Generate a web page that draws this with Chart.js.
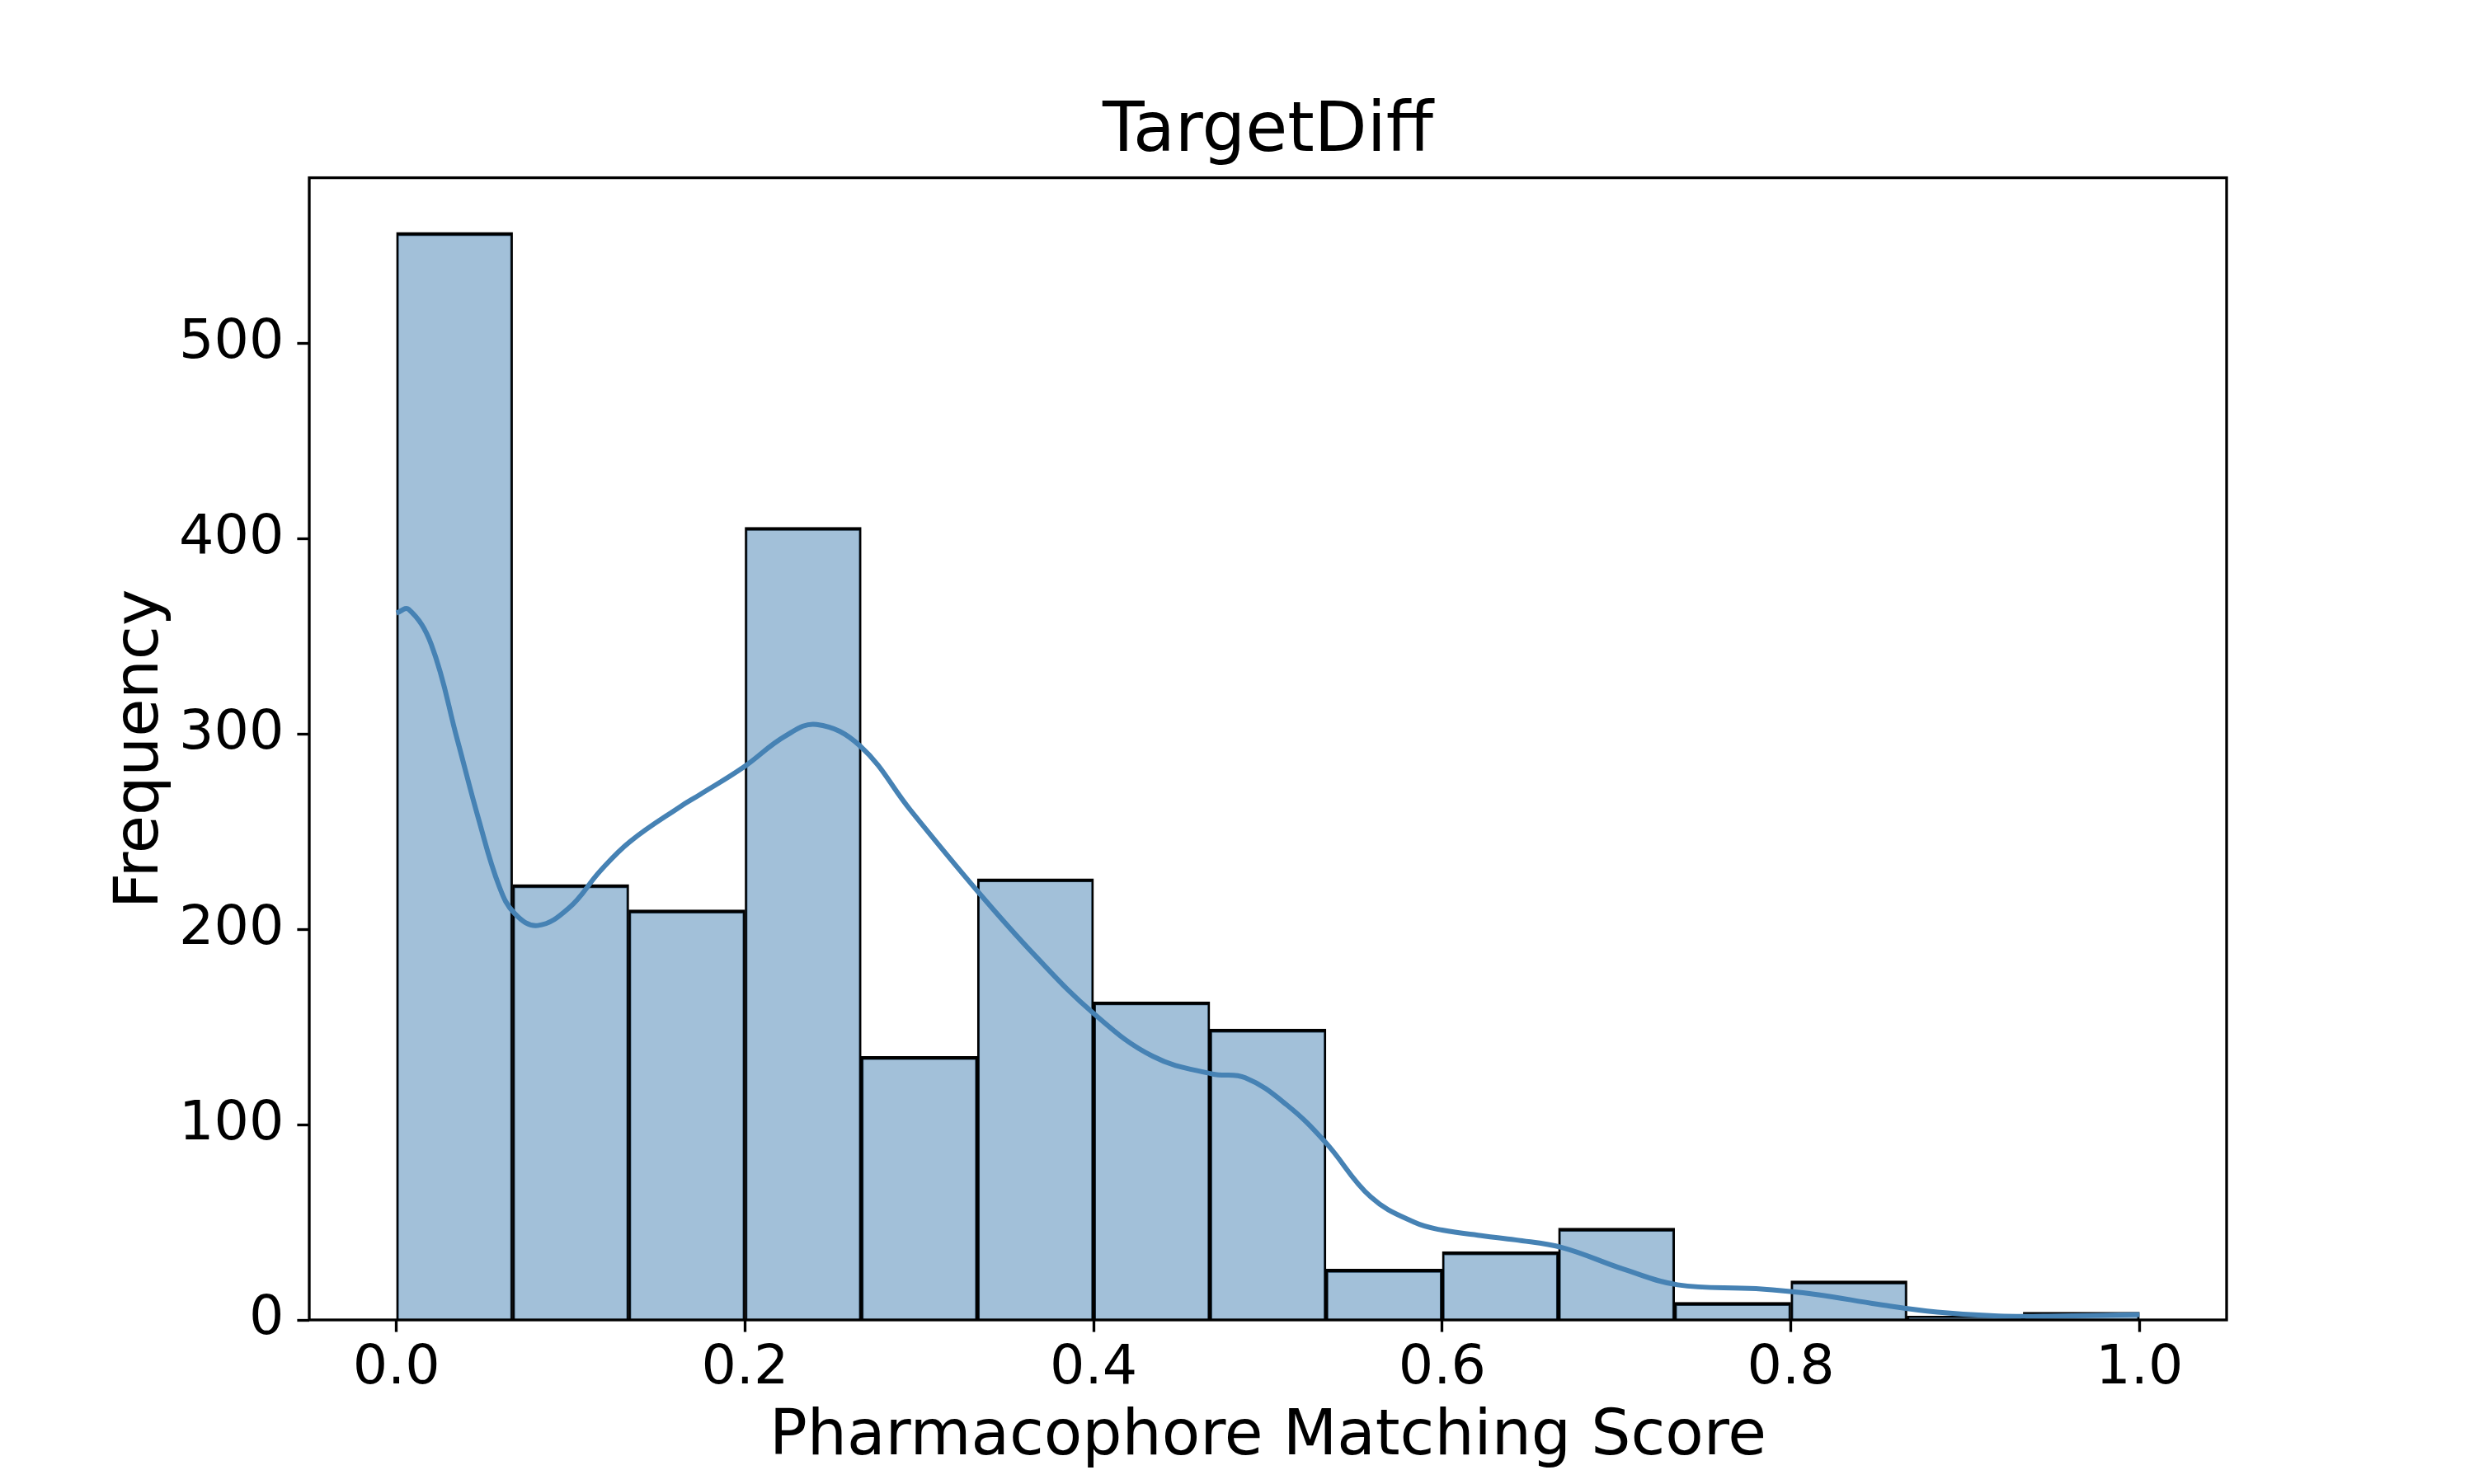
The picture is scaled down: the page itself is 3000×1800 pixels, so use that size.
<!DOCTYPE html>
<html>
<head>
<meta charset="utf-8">
<script src="https://cdn.jsdelivr.net/npm/chart.js@4.4.0/dist/chart.umd.min.js"></script>
<style>
body{margin:0;background:#fff;}
</style>
</head>
<body>
<canvas id="grafhist" width="3000" height="1800"></canvas>
<script>
// histogram bins (15 equal bins over 0..1)
var binEdges = [0, 0.0667, 0.1333, 0.2, 0.2667, 0.3333, 0.4, 0.4667, 0.5333, 0.6, 0.6667, 0.7333, 0.8, 0.8667, 0.9333, 1.0];
var binCounts = [557, 223, 210, 406, 135, 226, 163, 149, 26, 35, 47, 9, 20, 2, 4];

// kde curve
var kdeX = [0, 0.007, 0.020, 0.035, 0.047, 0.059, 0.068, 0.081, 0.099, 0.117, 0.134, 0.163, 0.174, 0.199, 0.223, 0.241, 0.266, 0.295, 0.333, 0.366, 0.400, 0.434, 0.468, 0.487, 0.511, 0.533, 0.559, 0.584, 0.600, 0.624, 0.642, 0.669, 0.704, 0.735, 0.780, 0.815, 0.850, 0.884, 0.919, 0.954, 1.0];
var kdeY = [362, 364, 346, 297, 257, 222, 208, 202, 211, 230, 245, 263, 269, 283, 299, 305, 294, 261, 220, 187, 157, 135, 126, 124, 110, 91, 63, 50, 46, 43, 41, 37, 26, 18, 16, 13, 8, 4, 2, 2, 2.7];

var xTicks = [0, 0.2, 0.4, 0.6, 0.8, 1.0];
var yTicks = [0, 100, 200, 300, 400, 500];

var histData = [];
for (var i in binCounts){
    histData.push({x: (binEdges[i] + binEdges[+i + 1]) / 2, y: binCounts[i]});
}
var kdeData = [];
for (var j in kdeX){
    kdeData.push({x: kdeX[j], y: kdeY[j]});
}

Chart.defaults.font.family = "DejaVu Sans";
Chart.defaults.color = "#000";

// matplotlib style box round the axes
var marco = {
    id: "marco",
    afterDatasetsDraw: function(chart){
        var a = chart.chartArea, ctx = chart.ctx;
        ctx.save();
        ctx.strokeStyle = "#000";
        ctx.lineWidth = 3.33;
        ctx.strokeRect(a.left, a.top, a.right - a.left, a.bottom - a.top);
        ctx.restore();
    }
};

var tickGrid = {
    display: true,
    drawOnChartArea: false,
    drawTicks: true,
    tickLength: 14.6,
    tickWidth: 3.33,
    tickColor: "#000",
    offset: false
};

var ishist = document.getElementById("grafhist");
var histChart = new Chart(ishist, {
    type: "bar",
    data: {
        datasets: [
            {
                type: "line",
                data: kdeData,
                borderColor: "#4682B4",
                borderWidth: 6,
                pointRadius: 0,
                tension: 0.4,
                fill: false,
                order: 1
            },
            {
                type: "bar",
                data: histData,
                backgroundColor: "rgba(70,130,180,0.5)",
                borderColor: "#000",
                borderWidth: {top: 4, left: 2.5, right: 2.5, bottom: 0},
                borderSkipped: false,
                barPercentage: 1,
                categoryPercentage: 1,
                order: 2
            }
        ]
    },
    options: {
        responsive: false,
        animation: false,
        devicePixelRatio: 1,
        layout: { padding: {left: 0, right: 300, top: 0, bottom: 0} },
        plugins: {
            legend: { display: false },
            tooltip: { enabled: false },
            title: {
                display: true,
                fullSize: false,
                text: "TargetDiff",
                color: "#000",
                font: { size: 83, weight: "normal" },
                padding: { top: 112, bottom: 4 }
            }
        },
        scales: {
            x: {
                type: "linear",
                min: -0.05,
                max: 1.05,
                offset: false,
                afterBuildTicks: function(s){ s.ticks = xTicks.map(function(v){ return {value: v}; }); },
                afterFit: function(s){ s.height = 199; },
                grid: tickGrid,
                border: { display: false },
                ticks: {
                    font: { size: 66.7 },
                    color: "#000",
                    padding: 5,
                    maxRotation: 0,
                    autoSkip: false,
                    callback: function(v){ return Number(v).toFixed(1); }
                },
                title: {
                    display: true,
                    text: "Pharmacophore Matching Score",
                    color: "#000",
                    font: { size: 76 },
                    padding: { top: 0, bottom: 10 }
                }
            },
            y: {
                type: "linear",
                min: 0,
                max: 585,
                afterBuildTicks: function(s){ s.ticks = yTicks.map(function(v){ return {value: v}; }); },
                afterFit: function(s){ s.width = 375; },
                grid: tickGrid,
                border: { display: false },
                ticks: {
                    font: { size: 66.7 },
                    color: "#000",
                    padding: 16,
                    autoSkip: false
                },
                title: {
                    display: true,
                    text: "Frequency",
                    color: "#000",
                    font: { size: 75 },
                    padding: { top: 127, bottom: 0 }
                }
            }
        }
    },
    plugins: [marco]
});
</script>
</body>
</html>
